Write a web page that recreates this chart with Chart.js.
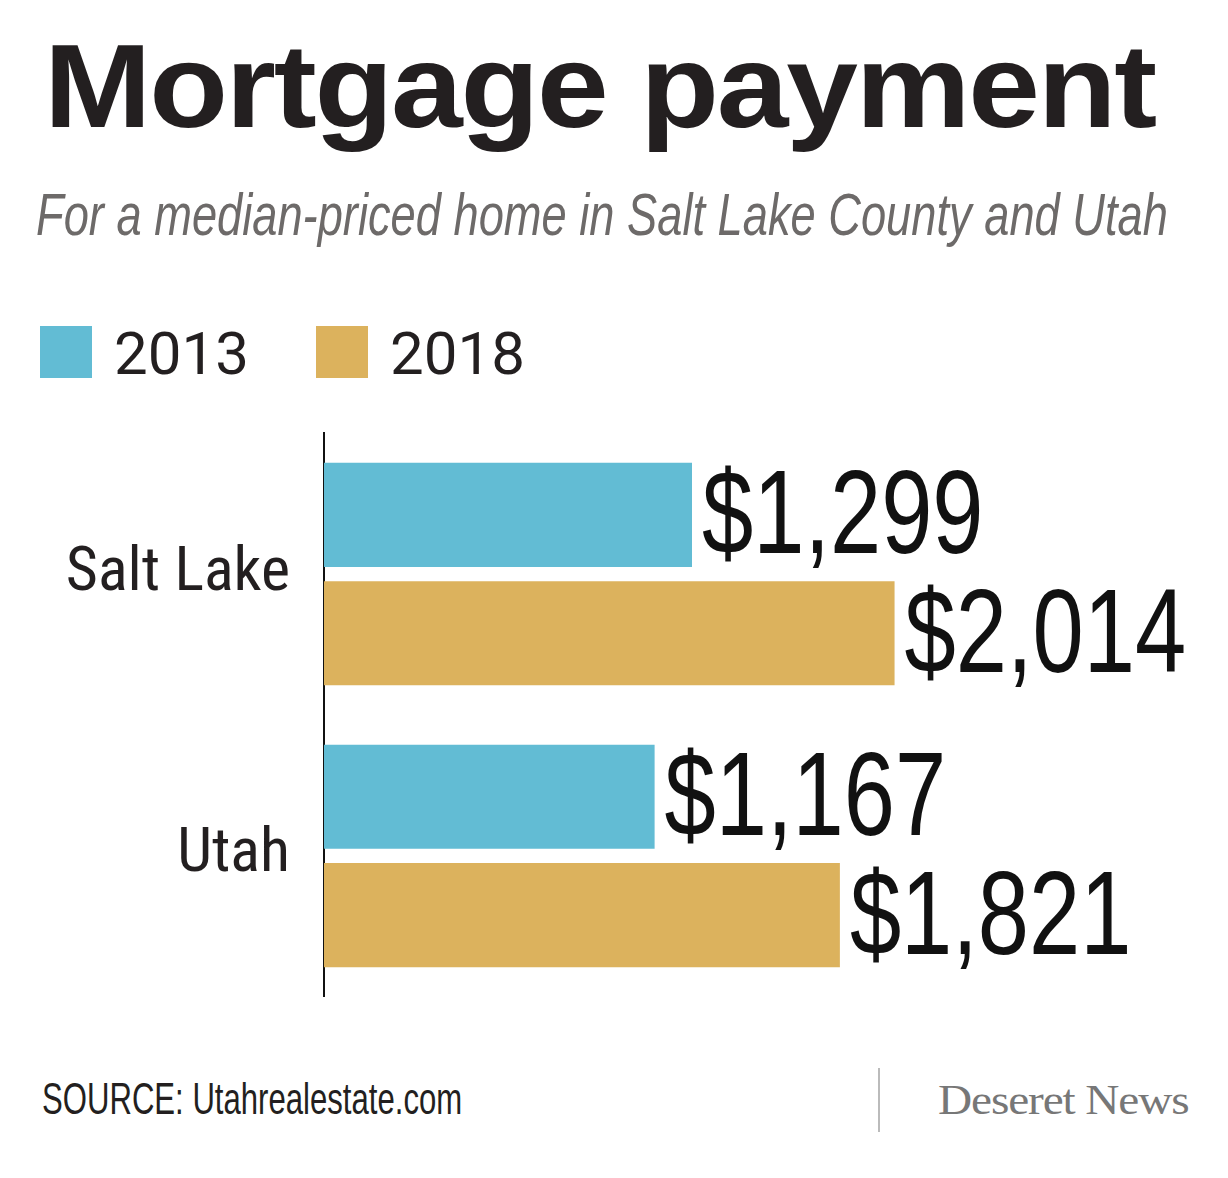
<!DOCTYPE html>
<html><head><meta charset="utf-8">
<script src="https://cdn.jsdelivr.net/npm/chart.js@4"></script>
<style>
body{margin:0;width:1228px;height:1178px;background:#fff;position:relative;overflow:hidden;font-family:"Liberation Sans",sans-serif;}
.fit{position:absolute;white-space:nowrap;transform-origin:0 0;}
#title{left:44px;top:18px;font:bold 118px "Liberation Sans","DejaVu Sans",sans-serif;color:#231f20;letter-spacing:-2px;}
#sub{left:36px;top:180px;font:italic 60px "Liberation Sans",sans-serif;color:#6d6a69;}
.leg{position:absolute;top:318px;font:60px "Roboto",sans-serif;color:#231f20;}
.leg span{display:inline-block;width:52px;height:52px;vertical-align:-4px;margin-right:22px;}
#wrap{position:absolute;left:0;top:370px;width:1228px;height:690px;}
#src{left:42px;top:1074px;font:44px "Liberation Sans",sans-serif;color:#231f20;}
#sep{position:absolute;left:878px;top:1068px;width:2px;height:64px;background:#bbb;}
#dn{left:938px;top:1076px;font:42px "Liberation Serif",serif;color:#777;letter-spacing:-1px;}
</style></head><body>
<div id="title" class="fit" data-w="1111">Mortgage payment</div>
<div id="sub" class="fit" data-w="1132">For a median-priced home in Salt Lake County and Utah</div>
<div class="leg" style="left:40px"><span style="background:#62bcd4"></span>2013</div>
<div class="leg" style="left:316px"><span style="background:#dcb25d"></span>2018</div>
<div id="wrap"><canvas id="c"></canvas></div>
<div id="src" class="fit" data-w="420">SOURCE: Utahrealestate.com</div>
<div id="sep"></div>
<div id="dn" class="fit" data-w="250">Deseret News</div>
<script>
var categories = ["Salt Lake", "Utah"];
var values2013 = [1299, 1167];
var values2018 = [2014, 1821];

document.querySelectorAll('.fit').forEach(function(el) {
  el.style.transform = 'scaleX(' + (Number(el.dataset.w) / el.offsetWidth) + ')';
});

var labelPlugin = {
  id: 'vals',
  afterDatasetsDraw: function(chart) {
    var ctx = chart.ctx;
    ctx.save();
    ctx.font = '118px "Liberation Sans", sans-serif';
    ctx.fillStyle = '#111';
    ctx.textBaseline = 'middle';
    chart.data.datasets.forEach(function(ds, i) {
      chart.getDatasetMeta(i).data.forEach(function(bar, j) {
        ctx.save();
        ctx.translate(bar.x + 10, bar.y + 6);
        ctx.scale(0.78, 1);
        ctx.fillText('$' + ds.data[j].toLocaleString('en-US'), 0, 0);
        ctx.restore();
      });
    });
    ctx.restore();
  }
};

new Chart(document.getElementById('c'), {
  type: 'bar',
  data: {
    labels: categories,
    datasets: [
      {label: '2013', data: values2013, backgroundColor: '#62bcd4'},
      {label: '2018', data: values2018, backgroundColor: '#dcb25d'}
    ]
  },
  options: {
    indexAxis: 'y',
    responsive: true,
    maintainAspectRatio: false,
    animation: false,
    layout: {padding: {top: 10, bottom: 10, right: 0}},
    categoryPercentage: 0.84,
    barPercentage: 0.88,
    plugins: {legend: {display: false}, tooltip: {enabled: false}},
    scales: {
      x: {display: false, min: 0, max: 3191},
      y: {
        grid: {display: false},
        border: {color: '#111', width: 2},
        afterFit: function(s) { s.width = 324; },
        ticks: {color: '#231f20', padding: 26, font: {size: 62, family: 'Roboto Condensed, Roboto'}}
      }
    }
  },
  plugins: [labelPlugin]
});
</script>
</body></html>
